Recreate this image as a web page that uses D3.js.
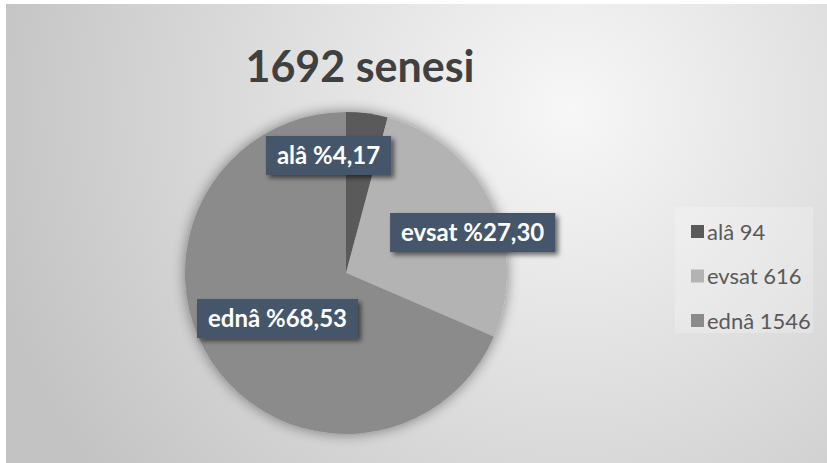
<!DOCTYPE html>
<html>
<head>
<meta charset="utf-8">
<script src="https://cdn.jsdelivr.net/npm/d3@7"></script>
<style>
  body { margin: 0; background: #ffffff; }
  text { font-family: Lato, "Open Sans", sans-serif; }
</style>
</head>
<body>
<script>
// datos del grafico
var categorias = ["alâ", "evsat", "ednâ"];
var valores = [94, 616, 1546];
var titulo = "1692 senesi";

var colores = d3.scaleOrdinal()
  .domain(categorias)
  .range(["#5a5a5a", "#b3b3b3", "#8b8b8b"]);

var ancho = 827, alto = 463;

var svg = d3.select("body")
  .append("svg")
  .attr("width", ancho)
  .attr("height", alto);

var defs = svg.append("defs");

// fondo con degradado radial
var grad = defs.append("radialGradient")
  .attr("id", "fondo")
  .attr("gradientUnits", "userSpaceOnUse")
  .attr("cx", 570).attr("cy", 110).attr("r", 600);
grad.append("stop").attr("offset", 0).attr("stop-color", "#f7f7f7");
grad.append("stop").attr("offset", 0.45).attr("stop-color", "#e0e0e0");
grad.append("stop").attr("offset", 1).attr("stop-color", "#c3c3c3");

// sombra suave del pastel
var sombra = defs.append("filter").attr("id", "sombraPie")
  .attr("x", "-20%").attr("y", "-20%").attr("width", "140%").attr("height", "140%");
sombra.append("feGaussianBlur").attr("in", "SourceAlpha").attr("stdDeviation", 7).attr("result", "b");
sombra.append("feComponentTransfer").attr("in", "b").attr("result", "b2")
  .append("feFuncA").attr("type", "linear").attr("slope", 0.45);
var m1 = sombra.append("feMerge");
m1.append("feMergeNode").attr("in", "b2");
m1.append("feMergeNode").attr("in", "SourceGraphic");

// sombra de las etiquetas
var sombraEt = defs.append("filter").attr("id", "sombraEt")
  .attr("x", "-20%").attr("y", "-30%").attr("width", "140%").attr("height", "170%");
sombraEt.append("feGaussianBlur").attr("in", "SourceAlpha").attr("stdDeviation", 2.5).attr("result", "b");
sombraEt.append("feOffset").attr("in", "b").attr("dx", 3).attr("dy", 3).attr("result", "o");
sombraEt.append("feComponentTransfer").attr("in", "o").attr("result", "o2")
  .append("feFuncA").attr("type", "linear").attr("slope", 0.55);
var m2 = sombraEt.append("feMerge");
m2.append("feMergeNode").attr("in", "o2");
m2.append("feMergeNode").attr("in", "SourceGraphic");

svg.append("rect")
  .attr("x", 6).attr("y", 4)
  .attr("width", ancho - 6).attr("height", alto - 4)
  .attr("fill", "url(#fondo)");

// titulo
svg.append("text")
  .attr("x", 360).attr("y", 82)
  .attr("text-anchor", "middle")
  .attr("font-size", 43)
  .attr("font-weight", "bold")
  .attr("fill", "#404040")
  .text(titulo);

// pastel
var cx = 346, cy = 273, radio = 161;
var total = d3.sum(valores);
var datos = categorias.map(function(c, i) { return {cat: c, valor: valores[i]}; });

var pie = d3.pie().sort(null).value(function(d) { return d.valor; });
var arco = d3.arc().innerRadius(0).outerRadius(radio);
var arcos = pie(datos);

var gPie = svg.append("g")
  .attr("transform", "translate(" + cx + "," + cy + ")");

gPie.append("g")
  .attr("filter", "url(#sombraPie)")
  .selectAll("path")
  .data(arcos)
  .enter()
  .append("path")
  .attr("d", arco)
  .attr("fill", function(d) { return colores(d.data.cat); });

// etiquetas (radio del centroide y ajuste tipo "mejor ajuste")
var radioEt = [119, 133, 82];
var ajusteEt = [[-33, 0], [7, 17], [0, 0]];
var fmt = function(v) { return "%" + d3.format(".2f")(v / total * 100).replace(".", ","); };

arcos.forEach(function(a, i) {
  var p = d3.arc().innerRadius(radioEt[i]).outerRadius(radioEt[i]).centroid(a);
  var x = p[0] + ajusteEt[i][0], y = p[1] + ajusteEt[i][1];
  var g = gPie.append("g").attr("transform", "translate(" + x + "," + y + ")");
  var caja = g.append("rect").attr("fill", "#44546a").attr("filter", "url(#sombraEt)");
  var t = g.append("text")
    .attr("text-anchor", "middle")
    .attr("dy", "0.36em")
    .attr("font-size", 24)
    .attr("font-weight", "bold")
    .attr("fill", "#ffffff")
    .text(a.data.cat + " " + fmt(a.data.valor));
  var w = t.node().getComputedTextLength() + 22;
  caja.attr("x", -w / 2).attr("y", -19).attr("width", w).attr("height", 39);
});

// leyenda
var leyenda = svg.append("g");
leyenda.append("rect")
  .attr("x", 675).attr("y", 207)
  .attr("width", 138).attr("height", 126)
  .attr("fill", "#ffffff").attr("fill-opacity", 0.22);

var yLey = d3.scalePoint().domain(categorias).range([232, 321]);

leyenda.selectAll("rect.marca")
  .data(datos)
  .enter()
  .append("rect")
  .attr("class", "marca")
  .attr("x", 691)
  .attr("y", function(d) { return yLey(d.cat) - 7; })
  .attr("width", 13).attr("height", 13)
  .attr("fill", function(d) { return colores(d.cat); });

leyenda.selectAll("text")
  .data(datos)
  .enter()
  .append("text")
  .attr("x", 707)
  .attr("y", function(d) { return yLey(d.cat); })
  .attr("dy", "0.36em")
  .attr("font-size", 22)
  .attr("fill", "#595959")
  .text(function(d) { return d.cat + " " + d.valor; });
</script>
</body>
</html>
